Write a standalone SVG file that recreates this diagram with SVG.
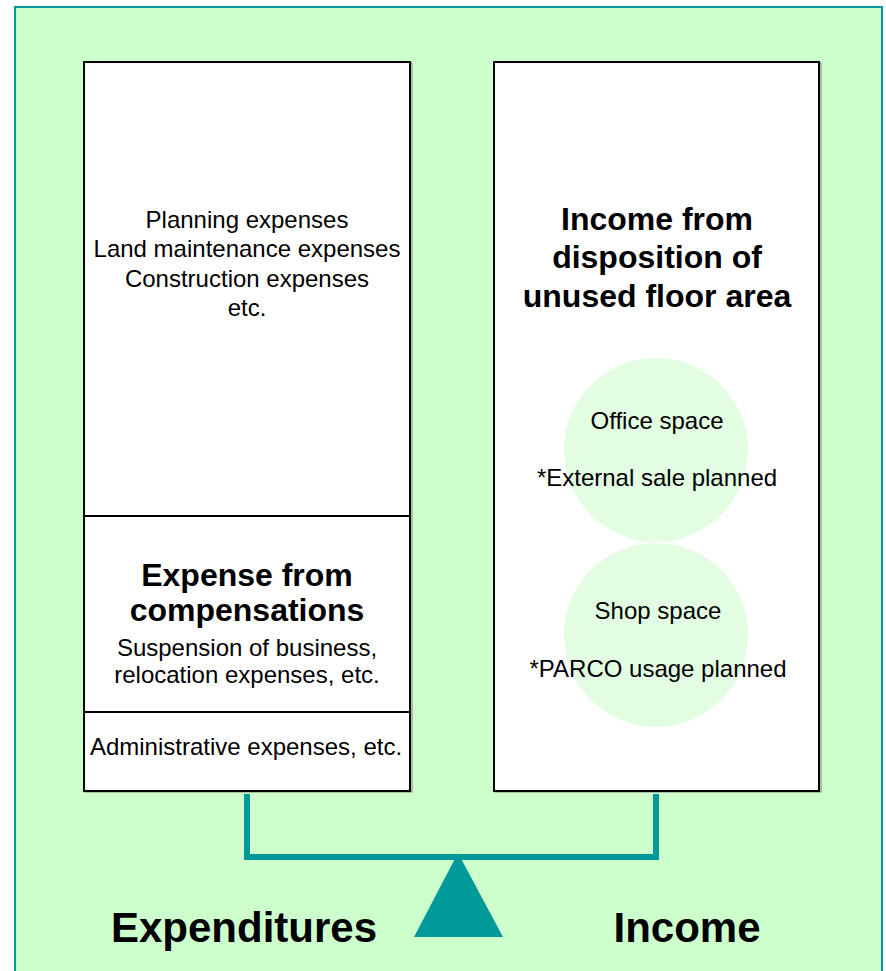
<svg xmlns="http://www.w3.org/2000/svg" width="886" height="971" viewBox="0 0 886 971">
  <style>
    .panel { fill: #CCFFCC; stroke: #009999; stroke-width: 2; }
    .box { fill: #FFFFFF; stroke: #000000; stroke-width: 2; }
    .shadow { fill: none; stroke: #808080; stroke-width: 1; }
    .divider { stroke: #000000; stroke-width: 2; }
    .bubble { fill: #E2FDE2; }
    .txt { font-family: "Liberation Sans", Arial, sans-serif; font-size: 24px; fill: #000000; text-anchor: middle; }
    .bold { font-family: "Liberation Sans", Arial, sans-serif; font-weight: bold; font-size: 32px; fill: #000000; text-anchor: middle; }
    .label { font-family: "Liberation Sans", Arial, sans-serif; font-weight: bold; font-size: 42px; fill: #000000; text-anchor: middle; }
    .beam { fill: none; stroke: #009999; stroke-width: 6; }
  </style>

  <!-- background panel -->
  <rect class="panel" x="15" y="7" width="867" height="980"/>

  <!-- expenditures column -->
  <g id="expenditures">
    <rect class="shadow" x="85" y="63" width="327" height="729"/>
    <rect class="box" x="84" y="62" width="326" height="729"/>
    <line class="divider" x1="84" y1="516" x2="410" y2="516"/>
    <line class="divider" x1="84" y1="712" x2="410" y2="712"/>
  </g>

  <g id="general-expenses">
    <text class="txt" x="247" y="228">Planning expenses</text>
    <text class="txt" x="247" y="257">Land maintenance expenses</text>
    <text class="txt" x="247" y="287">Construction expenses</text>
    <text class="txt" x="247" y="316">etc.</text>
  </g>

  <g id="compensation-expenses">
    <text class="bold" x="247" y="586">Expense from</text>
    <text class="bold" x="247" y="621">compensations</text>
    <text class="txt" x="247" y="656">Suspension of business,</text>
    <text class="txt" x="247" y="683">relocation expenses, etc.</text>
  </g>

  <g id="administrative-expenses">
    <text class="txt" x="246" y="755">Administrative expenses, etc.</text>
  </g>

  <!-- income column -->
  <g id="income">
    <rect class="shadow" x="495" y="63" width="326" height="729"/>
    <rect class="box" x="494" y="62" width="325" height="729"/>
    <text class="bold" x="657" y="230">Income from</text>
    <text class="bold" x="657" y="268">disposition of</text>
    <text class="bold" x="657" y="307">unused floor area</text>
  </g>

  <g id="office-space">
    <circle class="bubble" cx="656" cy="450" r="92"/>
    <text class="txt" x="657" y="429">Office space</text>
    <text class="txt" x="657" y="486">*External sale planned</text>
  </g>

  <g id="shop-space">
    <circle class="bubble" cx="656" cy="635" r="92"/>
    <text class="txt" x="658" y="619">Shop space</text>
    <text class="txt" x="658" y="677">*PARCO usage planned</text>
  </g>

  <!-- balance beam and fulcrum -->
  <g id="connectors">
    <polyline class="beam" points="247,794 247,857 656,857 656,794"/>
    <polygon points="458,853 414,937 503,937" fill="#009999"/>
  </g>

  <g id="labels">
    <text class="label" x="244" y="942">Expenditures</text>
    <text class="label" x="687" y="942">Income</text>
  </g>
</svg>
